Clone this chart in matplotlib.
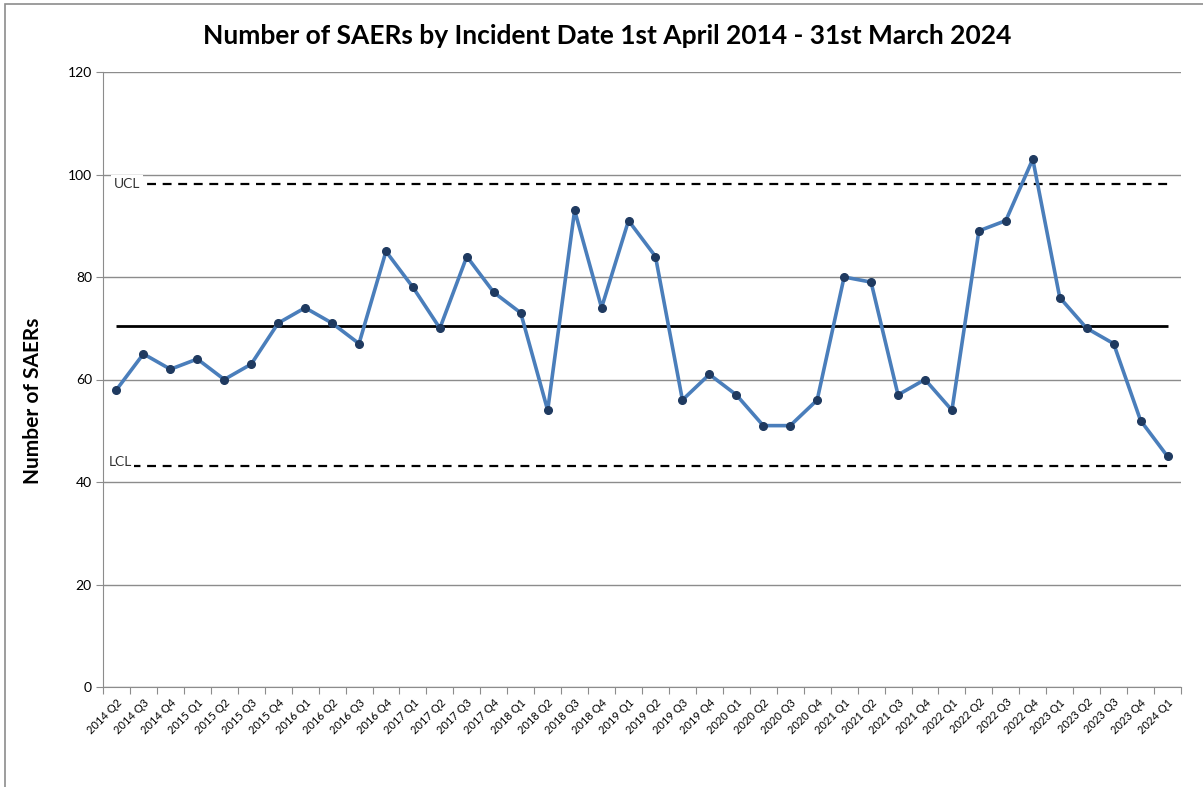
import numpy as np
import matplotlib.pyplot as plt
from matplotlib.patches import Rectangle

plt.rcParams['font.family'] = ['Lato', 'DejaVu Sans']

# Data
# ----
quarters = ['2014 Q2', '2014 Q3', '2014 Q4',
            '2015 Q1', '2015 Q2', '2015 Q3', '2015 Q4',
            '2016 Q1', '2016 Q2', '2016 Q3', '2016 Q4',
            '2017 Q1', '2017 Q2', '2017 Q3', '2017 Q4',
            '2018 Q1', '2018 Q2', '2018 Q3', '2018 Q4',
            '2019 Q1', '2019 Q2', '2019 Q3', '2019 Q4',
            '2020 Q1', '2020 Q2', '2020 Q3', '2020 Q4',
            '2021 Q1', '2021 Q2', '2021 Q3', '2021 Q4',
            '2022 Q1', '2022 Q2', '2022 Q3', '2022 Q4',
            '2023 Q1', '2023 Q2', '2023 Q3', '2023 Q4',
            '2024 Q1']
saers = [58, 65, 62,
         64, 60, 63, 71,
         74, 71, 67, 85,
         78, 70, 84, 77,
         73, 54, 93, 74,
         91, 84, 56, 61,
         57, 51, 51, 56,
         80, 79, 57, 60,
         54, 89, 91, 103,
         76, 70, 67, 52,
         45]
mean_line = 70.5
ucl = 98.2
lcl = 43.1

x = np.arange(len(quarters))

# Figure setup
# ------------
fig = plt.figure(figsize=(12.03, 7.87), dpi=100)
ax = fig.add_axes([103 / 1203, 1 - 687 / 787, 1078 / 1203, 615 / 787])

# outer chart border (cropped at right/bottom)
fig.patches.append(Rectangle((5 / 1203, -0.1), 1.2, 1 - 4 / 787 + 0.1,
                             transform=fig.transFigure, fill=False,
                             edgecolor='#8c8c8c', linewidth=1.2))

fig.text(607 / 1203, 1 - 36 / 787,
         'Number of SAERs by Incident Date 1st April 2014 - 31st March 2024',
         ha='center', va='center', fontsize=19, fontweight='bold')

# Plot data
# ---------
ax.hlines(mean_line, x[0], x[-1], color='black', linewidth=2, zorder=2)
ax.hlines([ucl, lcl], x[0], x[-1], color='black', linewidth=1.6,
          linestyles=(0, (4, 3)), zorder=2)
ax.text(0.4, ucl, 'UCL', ha='center', va='center', fontsize=10, color='#333333',
        bbox=dict(facecolor='white', edgecolor='none', pad=2), zorder=3)
ax.text(0.15, lcl + 0.8, 'LCL', ha='center', va='center', fontsize=10, color='#333333',
        bbox=dict(facecolor='white', edgecolor='none', pad=1), zorder=3)

ax.plot(x, saers, color='#4a7ebb', linewidth=2.6, marker='o', markersize=5.5,
        markerfacecolor='#1f3a60', markeredgecolor='#1f3a60', zorder=4)

# Axes styling
# ------------
ax.set_xlim(-0.5, len(quarters) - 0.5)
ax.set_ylim(0, 120)
ax.set_yticks(np.arange(0, 121, 20))
ax.grid(axis='y', color='#8c8c8c', linewidth=1)
ax.set_axisbelow(True)

ax.set_xticks(np.arange(-0.5, len(quarters), 1))
ax.set_xticklabels([])
ax.set_xticks(x, minor=True)
ax.set_xticklabels(quarters, minor=True, rotation=45, ha='right',
                   rotation_mode='anchor', fontsize=8)
ax.tick_params(axis='x', which='major', length=5, color='#8c8c8c')
ax.tick_params(axis='x', which='minor', length=0, pad=7)
ax.tick_params(axis='y', length=5, color='#8c8c8c', labelsize=10, pad=3)

for side in ['top', 'right']:
    ax.spines[side].set_visible(False)
for side in ['left', 'bottom']:
    ax.spines[side].set_color('#8c8c8c')

ax.set_ylabel('Number of SAERs', fontsize=15, fontweight='bold')
ax.yaxis.set_label_coords(-0.056, 0.465)

fig.savefig('out.png', dpi=100)
